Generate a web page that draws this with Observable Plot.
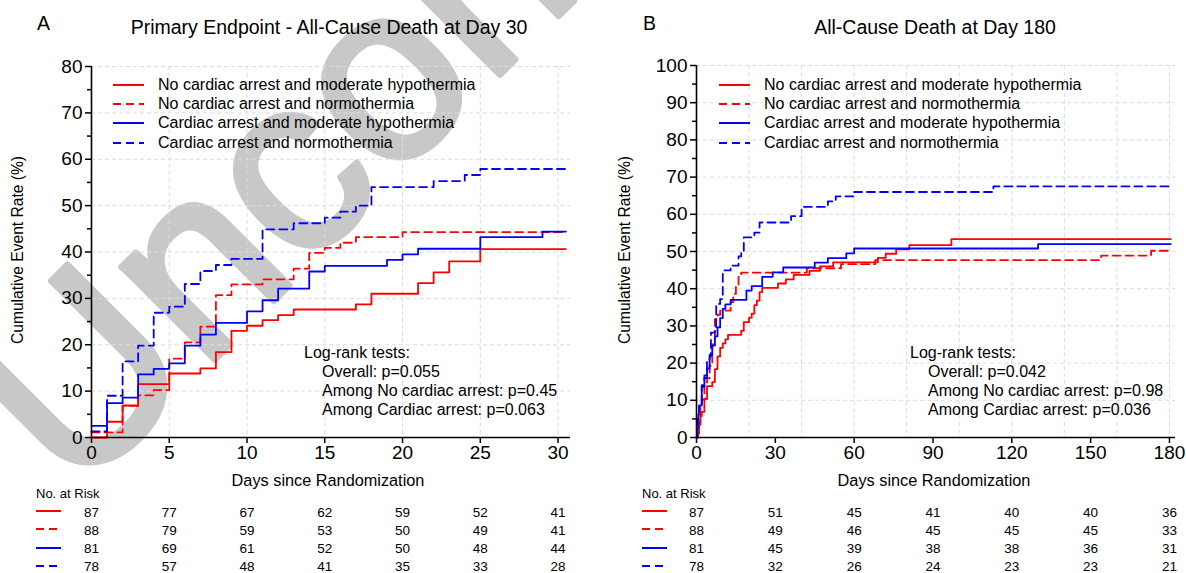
<!DOCTYPE html>
<html>
<head>
<meta charset="utf-8">
<script src="https://cdn.jsdelivr.net/npm/d3@7"></script>
<script src="https://cdn.jsdelivr.net/npm/@observablehq/plot@0.6"></script>
<style>
  body { margin: 0; background: #fff; }
  #root { position: relative; width: 1186px; height: 573px; overflow: hidden; font-family: "Liberation Sans", Arial, sans-serif; color: #000; }
  .abs { position: absolute; }
  .t { position: absolute; white-space: nowrap; line-height: 1; }
</style>
</head>
<body>
<div id="root"></div>
<script>
// ---------------- DATA ----------------
const seriesNames = [
  "No cardiac arrest and moderate hypothermia",
  "No cardiac arrest and normothermia",
  "Cardiac arrest and moderate hypothermia",
  "Cardiac arrest and normothermia"
];

// Panel A: day, cumulative event rate (%)
const A_ncaHypo = [[0,0],[1,3.4],[2,6.9],[3,11.5],[5,13.8],[7,14.9],[8,18.4],[9,23],[10,24.1],[11,25.3],[12,26.4],[13,27.6],[17,28.7],[18,31],[21,33.3],[22,35.6],[23,38],[25,40.6],[30.5,40.6]];
const A_ncaNorm = [[0,1.1],[2,6.8],[3,9.1],[4,10.2],[5,17],[6,20.5],[7,23.9],[8,30.7],[9,33],[11,34.1],[13,36.4],[14,39.8],[15,40.9],[16,42],[17,43.2],[20,44.3],[30.5,44.3]];
const A_caHypo = [[0,2.5],[1,7.4],[2,8.6],[3,13.6],[4,14.8],[5,16],[6,19.8],[7,22.2],[8,24.7],[10,27.2],[11,29.6],[12,32.1],[14,35.8],[15,37],[19,38.3],[20,39.5],[21,40.7],[25,43.2],[29,44.4],[30.5,44.4]];
const A_caNorm = [[0,1.3],[1,9],[2,16.4],[3,19.8],[4,26.9],[5,28.2],[6,33.1],[7,35.9],[8,37.2],[9,38.5],[11,44.9],[13,46.2],[15,47.4],[16,48.7],[17,50],[18,54],[22,55.3],[24,56.6],[25,57.9],[30.5,57.9]];

// Panel B
const B_ncaHypo = [[0,0],[0.5,1.1],[1,3.4],[1.5,5.7],[2,6.9],[3,10.3],[4,13.8],[6,14.9],[7,18.4],[8,21.8],[9,24.1],[10,25.3],[11,26.4],[12,27.6],[17,28.7],[18,31],[20,32.2],[21,33.3],[22,35.6],[23,36.8],[24,39.1],[25,40.2],[31,41.4],[34,42.5],[37,43.7],[43,44.8],[47,46],[52,47.1],[69,48.3],[72,49.4],[76,50.6],[81,51.7],[97,53.3],[180.5,53.3]];
const B_ncaNorm = [[0,0],[0.5,1.1],[1,4.5],[1.5,9.1],[2,10.2],[3,14.8],[4,15.9],[5,19.3],[6,25],[7,31.8],[8,33],[9,34.1],[13,36.4],[14,38.6],[15,40.9],[16,43.2],[17,44.3],[42,45.5],[55,46.6],[68,47.7],[154,48.9],[173,50.2],[180.5,50.2]];
const B_caHypo = [[0,0],[0.3,2.5],[0.7,6.2],[1,8.6],[2,13.6],[3,16],[4,18.5],[5,22.2],[6,24.7],[7,27.2],[8,29.6],[9,32.1],[10,34.6],[11,35.8],[13,37],[19,39.5],[21,40.7],[25,43.2],[29,44.4],[33,45.7],[45,47],[50,48.2],[57,49.5],[60,50.8],[130,52],[180.5,52]];
const B_caNorm = [[0,0],[0.3,5.1],[1,9],[2,14.1],[3,16.7],[4,20.5],[5,21.8],[5.5,28.2],[7,29.5],[7.5,35.9],[9,37.2],[10,44.9],[13,46.2],[16,48.7],[17,50],[18,53.8],[22,55.1],[24,57.8],[36,59.5],[40,62],[50,63.5],[53,64.8],[60,66],[113,67.5],[180.5,67.5]];

// Axis ticks
const A_xTicks = [0,5,10,15,20,25,30];
const A_yTicks = [0,10,20,30,40,50,60,70,80];
const A_yMinor = [5,15,25,35,45,55,65,75];
const A_xGrid = [5,10,15,20,25,30];
const A_yGrid = [10,20,30,40,50,60,70,80];
const B_xTicks = [0,30,60,90,120,150,180];
const B_yTicks = [0,10,20,30,40,50,60,70,80,90,100];
const B_yMinor = [5,15,25,35,45,55,65,75,85,95];
const B_xGrid = [20,40,60,80,100,120,140,160,180];
const B_yGrid = [10,20,30,40,50,60,70,80,90,100];

// Numbers at risk
const A_riskTimes = [0,5,10,15,20,25,30];
const A_risk_ncaHypo = [87,77,67,62,59,52,41];
const A_risk_ncaNorm = [88,79,59,53,50,49,41];
const A_risk_caHypo = [81,69,61,52,50,48,44];
const A_risk_caNorm = [78,57,48,41,35,33,28];
const B_riskTimes = [0,30,60,90,120,150,180];
const B_risk_ncaHypo = [87,51,45,41,40,40,36];
const B_risk_ncaNorm = [88,49,46,45,45,45,33];
const B_risk_caHypo = [81,45,39,38,38,36,31];
const B_risk_caNorm = [78,32,26,24,23,23,21];

const A_tests = ["Overall: p=0.055", "Among No cardiac arrest: p=0.45", "Among Cardiac arrest: p=0.063"];
const B_tests = ["Overall: p=0.042", "Among No cardiac arrest: p=0.98", "Among Cardiac arrest: p=0.036"];

// ---------------- STYLE ----------------
const FONT = "Liberation Sans, Arial, sans-serif";
const seriesStyle = [
  {stroke: "#ff0000", dash: null},
  {stroke: "#ff0000", dash: "8,5"},
  {stroke: "#0000ff", dash: null},
  {stroke: "#0000ff", dash: "8,5"}
];

const root = document.getElementById("root");

// watermark (behind the charts)
const wm = document.createElementNS("http://www.w3.org/2000/svg", "svg");
wm.setAttribute("width", 1186); wm.setAttribute("height", 573);
wm.setAttribute("class", "abs"); wm.style.left = "0px"; wm.style.top = "0px";
wm.innerHTML = `<text transform="translate(75,500) rotate(-45)" font-size="250" fill="#c8c8c8" stroke="#c8c8c8" stroke-width="6" stroke-linejoin="round" font-family="${FONT}">Uncorrected</text>`;
root.appendChild(wm);

function text(str, x, y, size, opts = {}) {
  const d = document.createElement("div");
  d.className = "t";
  d.textContent = str;
  d.style.left = x + "px";
  d.style.top = y + "px";
  d.style.fontSize = size + "px";
  const ax = opts.anchor === "middle" ? "-50%" : opts.anchor === "end" ? "-100%" : "0";
  d.style.transform = `translate(${ax}, -50%)`;
  if (opts.rotate) d.style.transform = `translate(-50%, -50%) rotate(${opts.rotate}deg)`;
  root.appendChild(d);
}

function swatch(x1, x2, y, style) {
  const s = document.createElementNS("http://www.w3.org/2000/svg", "svg");
  s.setAttribute("width", x2 - x1 + 4); s.setAttribute("height", 6);
  s.setAttribute("class", "abs");
  s.style.left = (x1 - 2) + "px"; s.style.top = (y - 3) + "px";
  s.innerHTML = `<line x1="2" x2="${x2 - x1 + 2}" y1="3" y2="3" stroke="${style.stroke}" stroke-width="2" ${style.dash ? `stroke-dasharray="${style.dash}"` : ""}/>`;
  root.appendChild(s);
}

function panel(cfg) {
  const lines = cfg.series.map((pts, i) =>
    Plot.line(pts, {x: d => d[0], y: d => d[1], curve: "step-after",
      stroke: seriesStyle[i].stroke, strokeWidth: 1.8,
      strokeDasharray: seriesStyle[i].dash || undefined}));
  const p = Plot.plot({
    width: cfg.width, height: cfg.height,
    marginLeft: cfg.ml, marginRight: cfg.mr, marginTop: cfg.mt, marginBottom: cfg.mb,
    style: {background: "transparent", fontFamily: FONT, color: "#000", overflow: "visible"},
    x: {domain: cfg.xDomain},
    y: {domain: cfg.yDomain},
    marks: [
      Plot.ruleX(cfg.xGrid, {stroke: "#dcdcdc", strokeDasharray: "4,3", strokeWidth: 1}),
      Plot.ruleY(cfg.yGrid, {stroke: "#dcdcdc", strokeDasharray: "4,3", strokeWidth: 1}),
      Plot.axisX({ticks: cfg.xTicks, tickSize: 6, tickPadding: 2, fontSize: 19, label: null, strokeWidth: 1.5}),
      Plot.axisY({ticks: cfg.yTicks, tickSize: 6, tickPadding: 3, fontSize: 19, label: null, strokeWidth: 1.5}),
      Plot.axisY({ticks: cfg.yMinor, tickSize: 4, tickFormat: () => "", label: null, strokeWidth: 1.5}),
      ...lines,
      Plot.ruleX([0], {stroke: "#000", strokeWidth: 1.6}),
      Plot.ruleY([0], {stroke: "#000", strokeWidth: 1.6})
    ]
  });
  p.classList.add("abs");
  p.style.left = cfg.left + "px"; p.style.top = "0px";
  root.appendChild(p);

  // numbers at risk table, on the same x scale
  const rows = [];
  cfg.risk.forEach((arr, i) => arr.forEach((n, j) => rows.push({s: seriesNames[i], t: cfg.riskTimes[j], n})));
  const r = Plot.plot({
    width: cfg.width, height: 80,
    marginLeft: cfg.ml, marginRight: cfg.mr, marginTop: 0, marginBottom: 0,
    style: {background: "transparent", fontFamily: FONT, color: "#000", overflow: "visible"},
    x: {domain: cfg.xDomain, axis: null},
    y: {type: "point", domain: seriesNames, range: [11, 66], padding: 0, axis: null},
    marks: [Plot.text(rows, {x: "t", y: "s", text: "n", fontSize: 13.5, fill: "#000"})]
  });
  r.classList.add("abs");
  r.style.left = cfg.left + "px"; r.style.top = "500px";
  root.appendChild(r);
}

panel({left: 0, width: 590, height: 470, ml: 91, mr: 20, mt: 66, mb: 33,
  xDomain: [0, 30.8], yDomain: [0, 80], xTicks: A_xTicks, yTicks: A_yTicks, yMinor: A_yMinor,
  xGrid: A_xGrid, yGrid: A_yGrid, series: [A_ncaHypo, A_ncaNorm, A_caHypo, A_caNorm],
  risk: [A_risk_ncaHypo, A_risk_ncaNorm, A_risk_caHypo, A_risk_caNorm], riskTimes: A_riskTimes});

panel({left: 600, width: 586, height: 470, ml: 96, mr: 11, mt: 65, mb: 33,
  xDomain: [0, 182.3], yDomain: [0, 100], xTicks: B_xTicks, yTicks: B_yTicks, yMinor: B_yMinor,
  xGrid: B_xGrid, yGrid: B_yGrid, series: [B_ncaHypo, B_ncaNorm, B_caHypo, B_caNorm],
  risk: [B_risk_ncaHypo, B_risk_ncaNorm, B_risk_caHypo, B_risk_caNorm], riskTimes: B_riskTimes});

// Titles & labels
text("A", 37, 24, 19.5);
text("Primary Endpoint - All-Cause Death at Day 30", 329, 28, 19.5, {anchor: "middle"});
text("B", 643, 24, 19.5);
text("All-Cause Death at Day 180", 935, 28, 19.5, {anchor: "middle"});
text("Cumulative Event Rate (%)", 18, 250, 15.6, {rotate: -90});
text("Cumulative Event Rate (%)", 625, 250, 15.6, {rotate: -90});
text("Days since Randomization", 328, 480, 16.3, {anchor: "middle"});
text("Days since Randomization", 934, 480, 16.3, {anchor: "middle"});

// Legends
const legY = [85, 104, 123, 143];
seriesNames.forEach((name, i) => {
  swatch(113, 144, legY[i], seriesStyle[i]);
  text(name, 158, legY[i], 16);
  swatch(719, 750, legY[i], seriesStyle[i]);
  text(name, 764, legY[i], 16);
});

// Log-rank
const lrY = [353, 372, 391, 410];
text("Log-rank tests:", 304, lrY[0], 16);
A_tests.forEach((s, i) => text(s, 322, lrY[i + 1], 16));
text("Log-rank tests:", 910, lrY[0], 16);
B_tests.forEach((s, i) => text(s, 928, lrY[i + 1], 16));

// Risk table labels & swatches
text("No. at Risk", 36, 493, 13);
text("No. at Risk", 642, 493, 13);
const riskY = [511, 529.3, 547.7, 566];
seriesStyle.forEach((st, i) => {
  swatch(36, 61, riskY[i], st);
  swatch(642, 667, riskY[i], st);
});
</script>
</body>
</html>
